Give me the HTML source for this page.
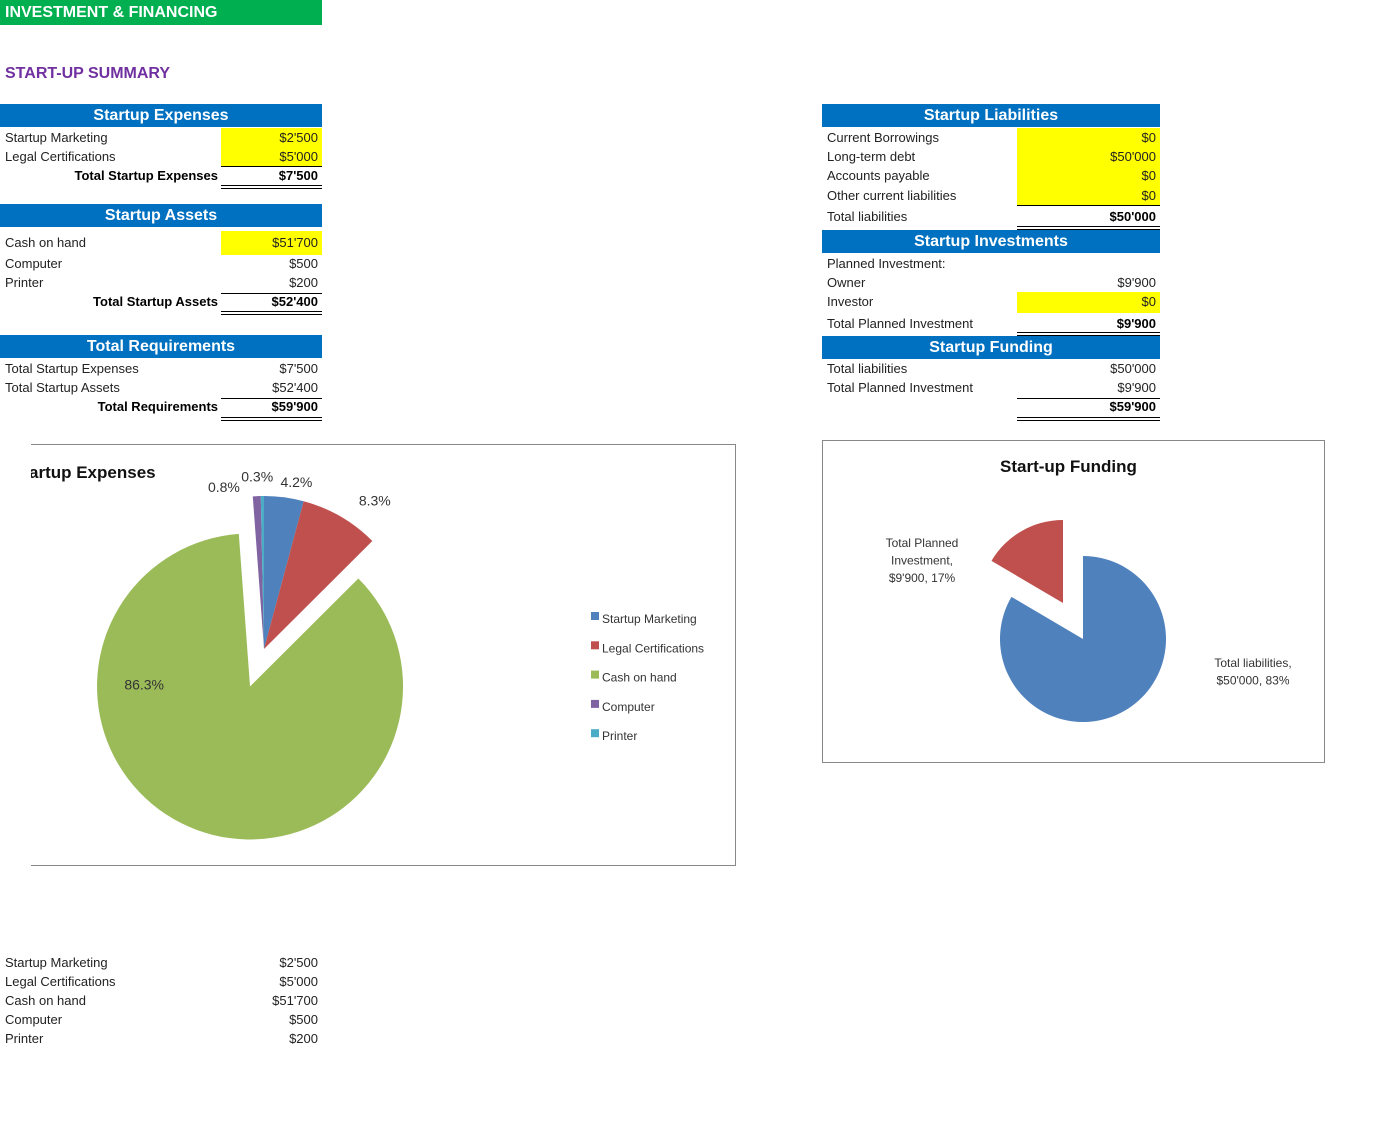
<!DOCTYPE html>
<html><head><meta charset="utf-8">
<style>
body{margin:0;width:1394px;height:1125px;background:#fff;position:relative;overflow:hidden;font-family:"Liberation Sans",Arial,sans-serif;}
.a{position:absolute;white-space:nowrap;}
.t{font-size:13px;line-height:16px;color:#222;}
.b{font-weight:bold;color:#000;}
.hd{position:absolute;background:#0070C0;color:#fff;font-weight:bold;font-size:16px;text-align:center;line-height:23px;}
.yl{position:absolute;background:#ffff00;}
.ln{position:absolute;height:1px;background:#000;}
.r{text-align:right;}
</style></head><body>
<div class="a" style="left:0;top:0;width:322px;height:25px;background:#00B050;color:#fff;font-weight:bold;font-size:16px;line-height:25px;padding-left:5px;box-sizing:border-box;">INVESTMENT &amp; FINANCING</div>
<div class="a" style="left:5px;top:65px;color:#7030A0;font-weight:bold;font-size:16px;">START-UP SUMMARY</div>
<div id="tables"></div>

<div class="a" style="left:31px;top:444px;width:704px;height:420px;border-top:1px solid #888;border-right:1px solid #888;border-bottom:1px solid #888;overflow:hidden;">
<div class="a" style="left:-19px;top:18px;font-weight:bold;font-size:17px;color:#111;">Startup Expenses</div>
</div>
<div class="a" style="left:822px;top:440px;width:501px;height:321px;border:1px solid #888;"></div>
<div class="a" style="left:1000px;top:457px;font-weight:bold;font-size:17px;color:#111;">Start-up Funding</div>
<svg class="a" id="pies" style="left:0;top:0" width="1394" height="1125"></svg>

<script>
// Chart data
const expCategories=["Startup Marketing","Legal Certifications","Cash on hand","Computer","Printer"];
const expValues=[2500,5000,51700,500,200];
const expLabels=["4.2%","8.3%","86.3%","0.8%","0.3%"];
const fundCategories=["Total liabilities","Total Planned Investment"];
const fundValues=[50000,9900];
const fundLabels=[["Total liabilities,","$50'000, 83%"],["Total Planned","Investment,","$9'900, 17%"]];
const bottomLabels=["Startup Marketing","Legal Certifications","Cash on hand","Computer","Printer"];
const bottomValues=["$2'500","$5'000","$51'700","$500","$200"];

const colors=["#4F81BD","#C0504D","#9BBB59","#8064A2","#4BACC6"];
const fundColors=["#4F81BD","#C0504D"];
const NS="http://www.w3.org/2000/svg";
const svg=document.getElementById('pies');
function pt(cx,cy,r,a){return [cx+r*Math.sin(a),cy-r*Math.cos(a)];}
function wedge(cx,cy,r,a0,a1,fill){
  const p0=pt(cx,cy,r,a0),p1=pt(cx,cy,r,a1);
  const large=(a1-a0)>Math.PI?1:0;
  const p=document.createElementNS(NS,'path');
  p.setAttribute('d',`M${cx},${cy}L${p0[0]},${p0[1]}A${r},${r} 0 ${large} 1 ${p1[0]},${p1[1]}Z`);
  p.setAttribute('fill',fill);
  svg.appendChild(p);return p;
}
function txt(x,y,s,size,anchor,fill){
  const t=document.createElementNS(NS,'text');
  t.setAttribute('x',x);t.setAttribute('y',y);t.setAttribute('font-size',size);
  t.setAttribute('text-anchor',anchor||'middle');t.setAttribute('fill',fill||'#333');
  t.setAttribute('font-family','Liberation Sans, Arial, sans-serif');
  t.textContent=s;svg.appendChild(t);return t;
}
// Expenses pie
(function(){
  const total=expValues.reduce((a,b)=>a+b,0);
  const cx=264,cy=649,r=153,explode=40;
  const nudge=[[10,8],[25,5],[-60,-120],[-32,14],[-5,4]];
  let a=0;
  expValues.forEach((v,i)=>{
    const a0=a,a1=a+v/total*2*Math.PI;a=a1;
    const mid=(a0+a1)/2;
    let ox=cx,oy=cy;
    if(i===2){ox=cx+explode*Math.sin(mid);oy=cy-explode*Math.cos(mid);}
    const w=wedge(ox,oy,r,a0,a1,colors[i]);
    
    
    const lp=pt(cx,cy,r*1.12,mid);
    const t=txt(lp[0]+nudge[i][0],lp[1]+nudge[i][1],expLabels[i],14,'middle','#333');
    
    
  });
  expCategories.forEach((c,i)=>{
    const y=619+i*29.3;
    const rc=document.createElementNS(NS,'rect');
    rc.setAttribute('x',591);rc.setAttribute('y',y-7);rc.setAttribute('width',8);rc.setAttribute('height',8);
    rc.setAttribute('fill',colors[i]);
    
    
    svg.appendChild(rc);
    const t=txt(602,y+4,c,12,'start','#333');
    
    
  });
})();
// Funding pie
(function(){
  const total=fundValues.reduce((a,b)=>a+b,0);
  const cx=1083,cy=639,r=83;
  const offs=[[0,0],[-20,-36]];
  let a=0;
  fundValues.forEach((v,i)=>{
    const a0=a,a1=a+v/total*2*Math.PI;a=a1;
    const w=wedge(cx+offs[i][0],cy+offs[i][1],r,a0,a1,fundColors[i]);
    
    
  });
  const lx=[1253,922],ly=[667,547];
  fundLabels.forEach((lines,i)=>{
    lines.forEach((s,j)=>{
      const t=txt(lx[i],ly[i]+j*17.5,s,12,'middle','#333');
      
      
    });
  });
})();

// Tables
const T=document.getElementById('tables');
function add(html){T.insertAdjacentHTML('beforeend',html);}
function hdr(x,w,y,text,name){add(`<div class="hd" style="left:${x}px;top:${y}px;width:${w}px;height:23px;">${text}</div>`);}
function yel(x,w,y,h){add(`<div class="yl" style="left:${x}px;top:${y}px;width:${w}px;height:${h}px;"></div>`);}
function row(lx,vx,cy,label,val,bold,labelRight){
  const ls=labelRight?`left:${lx-300}px;width:300px;text-align:right;`:`left:${lx}px;`;
  add(`<div class="a t ${bold?'b':''}" style="${ls}top:${cy-8}px;">${label}</div>`);
  if(val!==null)add(`<div class="a t r ${bold?'b':''}" style="left:${vx-150}px;width:150px;top:${cy-8}px;">${val}</div>`);
}
function ln(x,w,y){add(`<div class="ln" style="left:${x}px;top:${y}px;width:${w}px;"></div>`);}
function dbl(x,w,y){ln(x,w,y);ln(x,w,y+3);}

// left
hdr(0,322,104,'Startup Expenses','startup-expenses-header');
yel(221,101,128,38);
row(5,318,138,'Startup Marketing',"$2'500");
row(5,318,157,'Legal Certifications',"$5'000");
row(218,318,176,'Total Startup Expenses',"$7'500",true,true);
ln(221,101,166);dbl(221,101,185);
hdr(0,322,204,'Startup Assets','startup-assets-header');
yel(221,101,231,24);
row(5,318,243,'Cash on hand',"$51'700");
row(5,318,264,'Computer',"$500");
row(5,318,283,'Printer',"$200");
row(218,318,302,'Total Startup Assets',"$52'400",true,true);
ln(221,101,293);dbl(221,101,311);
hdr(0,322,335,'Total Requirements','total-requirements-header');
row(5,318,369,'Total Startup Expenses',"$7'500");
row(5,318,388,'Total Startup Assets',"$52'400");
row(218,318,407,'Total Requirements',"$59'900",true,true);
ln(221,101,398);dbl(221,101,417);

// right
hdr(822,338,104,'Startup Liabilities','startup-liabilities-header');
yel(1017,143,128,77);
row(827,1156,138,'Current Borrowings',"$0");
row(827,1156,157,'Long-term debt',"$50'000");
row(827,1156,176,'Accounts payable',"$0");
row(827,1156,196,'Other current liabilities',"$0");
ln(1017,143,205);
add(`<div class="a t" style="left:827px;top:209px;">Total liabilities</div>`);
add(`<div class="a t r b" style="left:1006px;width:150px;top:209px;">$50'000</div>`);
dbl(1017,143,226);
hdr(822,338,230,'Startup Investments','startup-investments-header');
row(827,1156,264,'Planned Investment:',null);
row(827,1156,283,'Owner',"$9'900");
yel(1017,143,292,21);
row(827,1156,302,'Investor',"$0");
add(`<div class="a t" style="left:827px;top:316px;">Total Planned Investment</div>`);
add(`<div class="a t r b" style="left:1006px;width:150px;top:316px;">$9'900</div>`);
dbl(1017,143,332);
hdr(822,338,336,'Startup Funding','startup-funding-header');
row(827,1156,369,'Total liabilities',"$50'000");
row(827,1156,388,'Total Planned Investment',"$9'900");
add(`<div class="a t r b" style="left:1006px;width:150px;top:399px;">$59'900</div>`);
ln(1017,143,398);dbl(1017,143,417);

// bottom list
bottomLabels.forEach((l,i)=>row(5,318,963+i*19,l,bottomValues[i]));
</script>
</body></html>
